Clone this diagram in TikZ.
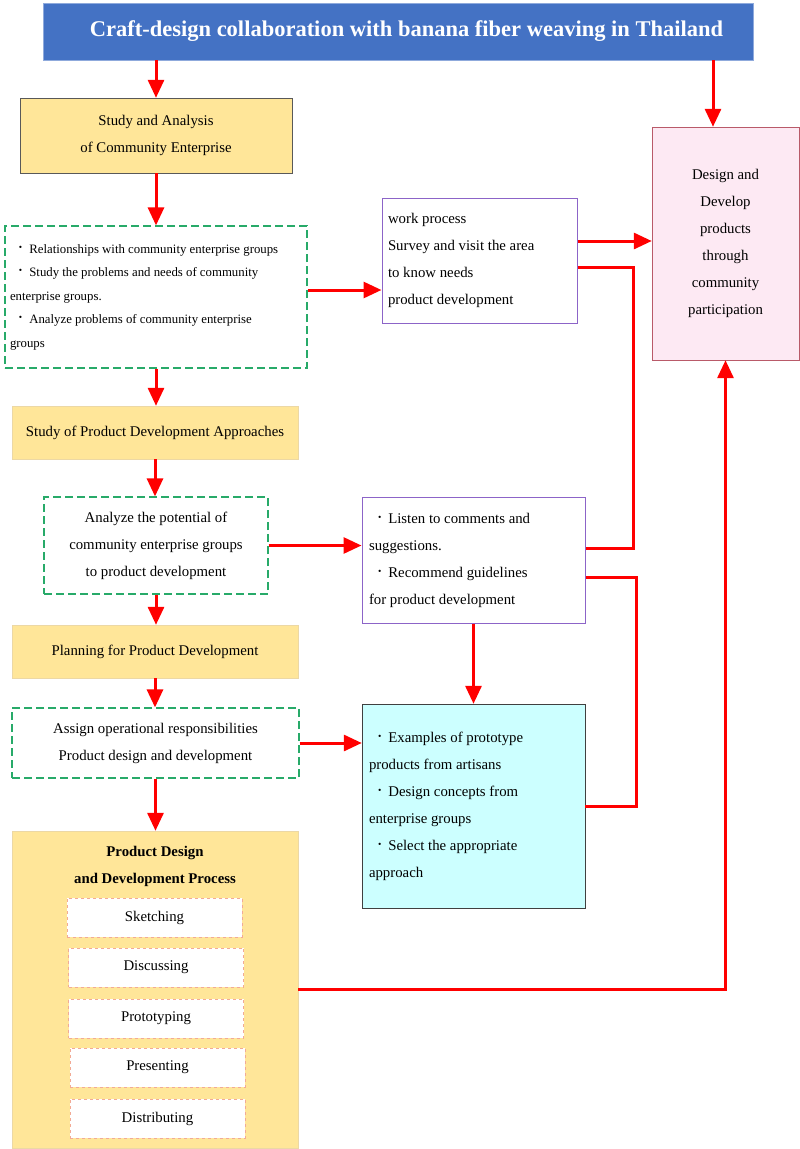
\documentclass[tikz,border=0pt]{standalone}
\usepackage{fontspec}
\setmainfont{Liberation Serif}
\usetikzlibrary{arrows.meta, calc}
\definecolor{titleblue}{RGB}{68,114,196}
\definecolor{boxyellow}{RGB}{255,230,153}
\definecolor{yedge}{RGB}{236,216,165}
\definecolor{dashgreen}{RGB}{40,170,105}
\definecolor{pedge}{RGB}{140,100,200}
\definecolor{pinkfill}{RGB}{253,233,243}
\definecolor{pinkedge}{RGB}{185,90,105}
\definecolor{cyanfill}{RGB}{204,255,255}
\definecolor{stageedge}{RGB}{242,170,150}
\definecolor{arrred}{RGB}{255,0,0}
\newcommand{\boxfont}{\fontsize{14.8}{27}\selectfont}
\newcommand{\listfont}{\fontsize{12.8}{23.5}\selectfont}
\newcommand{\bul}{\hspace*{9pt}\raisebox{3pt}{\fontsize{9.5}{9.5}\selectfont\textbullet}\hspace{7pt}}

\begin{document}
\begin{tikzpicture}[x=1pt,y=-1pt,
  arr/.style={line width=3pt, draw=arrred, -{Triangle[length=18pt,width=16pt]}},
  link/.style={line width=3pt, draw=arrred},
  titlebox/.style={fill=titleblue, draw=titleblue!60!white, text=white, font=\fontsize{22.5}{26}\selectfont\bfseries},
  ybox/.style={fill=boxyellow, draw=yedge, align=center, font=\boxfont},
  gbox/.style={draw=dashgreen, dashed, dash pattern=on 8pt off 4pt, line width=1.2pt, fill=white, font=\boxfont},
  pbox/.style={draw=pedge, line width=1pt, fill=white, align=flush left, inner xsep=6pt, font=\boxfont},
  pinkbox/.style={fill=pinkfill, draw=pinkedge, align=center, font=\boxfont},
  cbox/.style={fill=cyanfill, draw=black!75, align=flush left, inner xsep=7pt, font=\boxfont},
  stagebox/.style={fill=white, draw=stageedge, dashed, minimum width=175pt, minimum height=39pt, font=\boxfont}]
  \useasboundingbox (0,0) rectangle (800,1149);
  % Boxes
  \node[titlebox, minimum width=710pt, minimum height=57pt] (title) at (398,31.5) {\hspace*{17pt}Craft-design collaboration with banana fiber weaving in Thailand};
  \node[ybox, draw=black!65, minimum width=272pt, minimum height=75pt] (sa) at (156,135.5) {Study and Analysis\\of Community Enterprise};
  \node[gbox, minimum width=302pt, minimum height=142pt, text width=292pt, inner xsep=5pt, align=flush left, font=\listfont] (rel) at (156,297)
    {\bul Relationships with community enterprise groups\\\bul Study the problems and needs of community\\enterprise groups.\\\bul Analyze problems of community enterprise\\groups};
  \node[pbox, minimum width=195pt, minimum height=125pt, text width=183pt] (work) at (479.5,260.5)
    {work process\\Survey and visit the area\\to know needs\\product development};
  \node[pinkbox, minimum width=147pt, minimum height=233pt] (goal) at (725.5,243.5)
    {Design and\\Develop\\products\\through\\community\\participation};
  \node[ybox, minimum width=286pt, minimum height=53pt] (spa) at (155,432.5) {Study of Product Development Approaches};
  \node[gbox, minimum width=224pt, minimum height=97pt, align=center] (pot) at (156,545.5)
    {Analyze the potential of\\community enterprise groups\\to product development};
  \node[pbox, minimum width=223pt, minimum height=126pt, text width=209pt, inner xsep=7pt] (listen) at (473.5,560)
    {\bul Listen to comments and\\suggestions.\\\bul Recommend guidelines\\for product development};
  \node[ybox, minimum width=286pt, minimum height=53pt] (plan) at (155,651.5) {Planning for Product Development};
  \node[gbox, minimum width=287pt, minimum height=70pt, align=center] (assign) at (155.5,743)
    {Assign operational responsibilities\\Product design and development};
  \node[cbox, minimum width=223pt, minimum height=204pt, text width=209pt] (ex) at (473.5,806)
    {\bul Examples of prototype\\products from artisans\\\bul Design concepts from\\enterprise groups\\\bul Select the appropriate\\approach};
  % Process box with its stages
  \node[ybox, minimum width=286pt, minimum height=317pt] (proc) at (155,989.5) {};
  \node[font=\boxfont\bfseries, align=center] (proctitle) at (155,866.5) {Product Design\\and Development Process};
  \node[stagebox] (sketch) at (154.5,917.5) {Sketching};
  \node[stagebox] (discuss) at (156,967.5) {Discussing};
  \node[stagebox] (proto) at (156,1018.5) {Prototyping};
  \node[stagebox] (present) at (157.5,1067.5) {Presenting};
  \node[stagebox] (distrib) at (157.5,1118.5) {Distributing};
  %
  % Arrows:
  \coordinate (goaltop) at ([xshift=-12.5pt]goal.north);
  \draw[arr] (title.south -| sa.north) -- (sa.north);
  \draw[arr] (title.south -| goaltop) -- (goaltop);
  \draw[arr] (sa.south) -- (sa.south |- rel.north);
  \draw[arr] ([yshift=7pt]rel.east) -- ([yshift=7pt]rel.east -| work.west);
  \draw[arr] ([yshift=19.5pt]work.east) -- ([yshift=19.5pt]work.east -| goal.west);
  \draw[link] ([yshift=-6.5pt]work.east) -- ++(56,0) |- ([yshift=12pt]listen.east);
  \draw[arr] (rel.south) -- (rel.south |- spa.north);
  \draw[arr] (spa.south) -- (spa.south |- pot.north);
  \draw[arr] (pot.east) -- (pot.east -| listen.west);
  \draw[link] ([yshift=-17pt]listen.east) -- ++(51,0) |- (ex.east);
  \draw[arr] (pot.south) -- (pot.south |- plan.north);
  \draw[arr] (plan.south) -- (plan.south |- assign.north);
  \draw[arr] (assign.east) -- (assign.east -| ex.west);
  \draw[arr] (listen.south) -- (ex.north);
  \draw[arr] (assign.south) -- (assign.south |- proc.north);
  \draw[arr] (proc.east) -| (goal.south);
\end{tikzpicture}
\end{document}
